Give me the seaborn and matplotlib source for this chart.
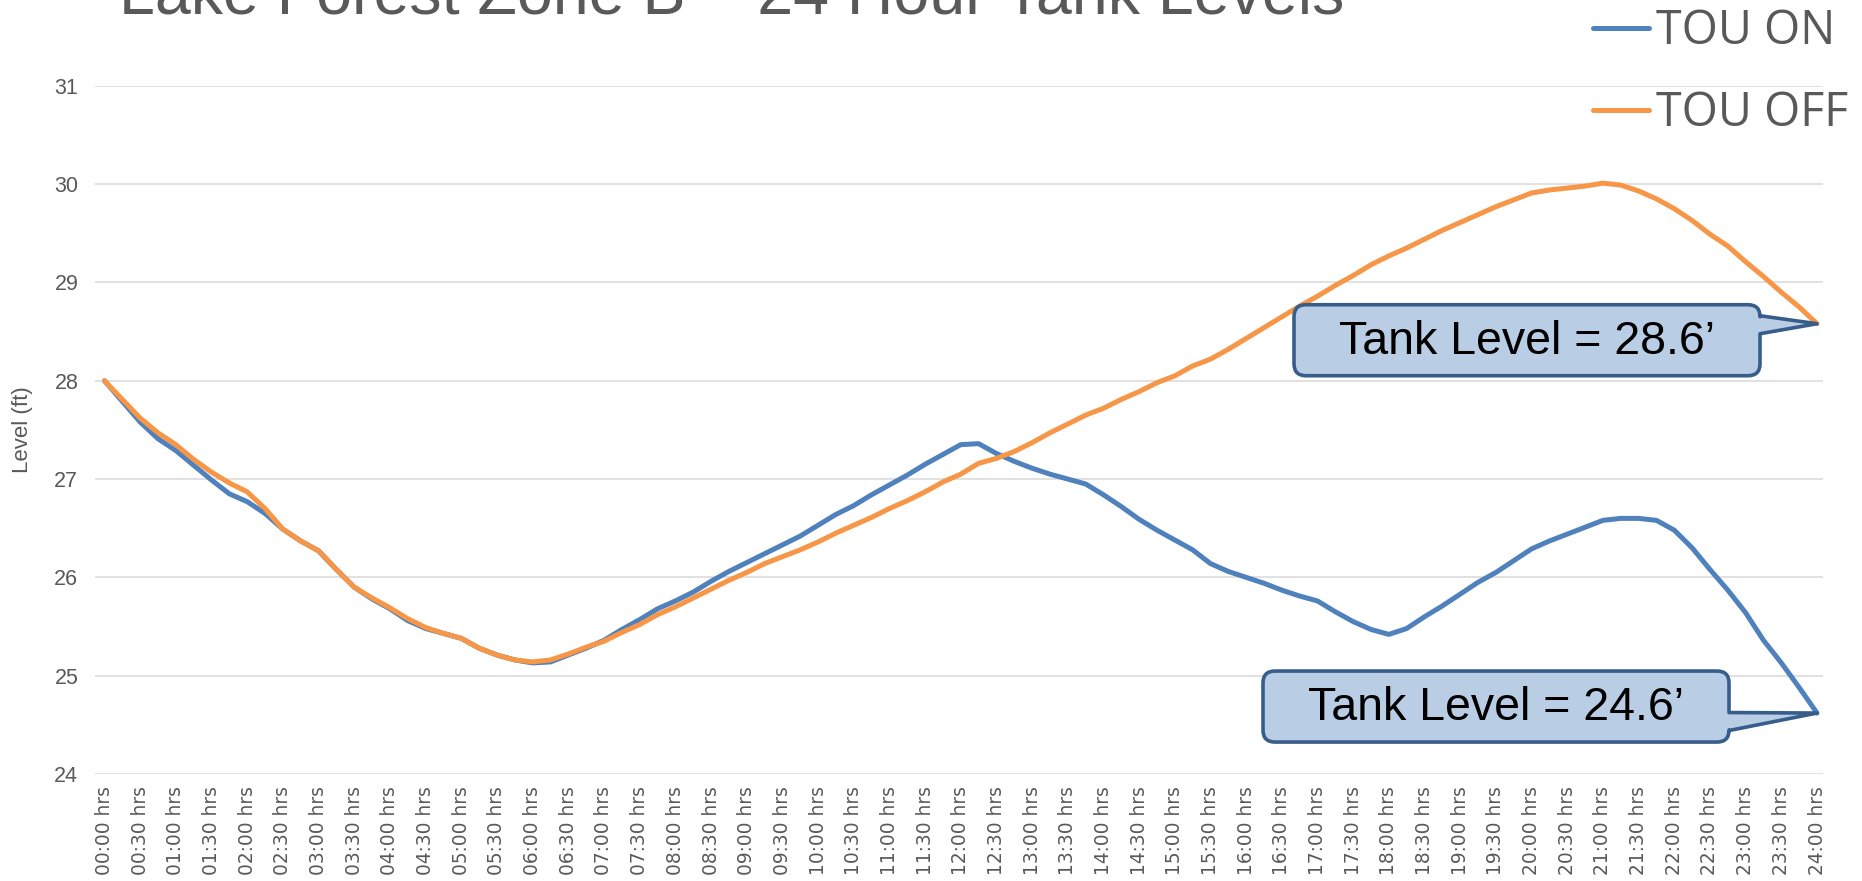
import numpy as np
import pandas as pd
import seaborn as sns
import matplotlib
matplotlib.use("Agg")
import matplotlib.pyplot as plt
from matplotlib import transforms, font_manager
from matplotlib.path import Path
from matplotlib.patches import PathPatch
from matplotlib.lines import Line2D

# ---- data (15 minute steps, 00:00 .. 24:00) ----
title = "Lake Forest Zone B – 24 Hour Tank Levels"
series_names = ["TOU ON", "TOU OFF"]
series_colors = ["#4F81BD", "#F79646"]
step_minutes = 15

tou_on = [28.00, 27.79, 27.58, 27.41, 27.29, 27.14, 26.99, 26.85, 26.77, 26.65,
          26.49, 26.37, 26.27, 26.08, 25.90, 25.78, 25.68, 25.56, 25.48, 25.43,
          25.38, 25.28, 25.21, 25.16, 25.13, 25.14, 25.21, 25.28, 25.36, 25.47,
          25.57, 25.68, 25.76, 25.85, 25.96, 26.06, 26.15, 26.24, 26.33, 26.42,
          26.53, 26.64, 26.73, 26.84, 26.94, 27.04, 27.15, 27.25, 27.35, 27.36,
          27.26, 27.18, 27.11, 27.05, 27.00, 26.95, 26.84, 26.72, 26.59, 26.48,
          26.38, 26.28, 26.14, 26.06, 26.00, 25.94, 25.87, 25.81, 25.76, 25.65,
          25.55, 25.47, 25.42, 25.48, 25.60, 25.71, 25.83, 25.95, 26.05, 26.17,
          26.29, 26.37, 26.44, 26.51, 26.58, 26.60, 26.60, 26.58, 26.48, 26.30,
          26.08, 25.87, 25.64, 25.36, 25.13, 24.88, 24.62]

tou_off = [28.00, 27.81, 27.62, 27.47, 27.35, 27.20, 27.07, 26.96, 26.87, 26.70,
           26.49, 26.37, 26.27, 26.08, 25.90, 25.79, 25.69, 25.58, 25.49, 25.43,
           25.38, 25.28, 25.21, 25.16, 25.14, 25.16, 25.22, 25.29, 25.35, 25.44,
           25.52, 25.62, 25.70, 25.79, 25.88, 25.97, 26.05, 26.14, 26.21, 26.28,
           26.36, 26.45, 26.53, 26.61, 26.70, 26.78, 26.87, 26.97, 27.05, 27.16,
           27.21, 27.28, 27.37, 27.47, 27.56, 27.65, 27.72, 27.81, 27.89, 27.98,
           28.05, 28.15, 28.22, 28.32, 28.43, 28.54, 28.65, 28.76, 28.86, 28.97,
           29.07, 29.18, 29.27, 29.35, 29.44, 29.53, 29.61, 29.69, 29.77, 29.84,
           29.91, 29.94, 29.96, 29.98, 30.01, 29.99, 29.93, 29.85, 29.75, 29.63,
           29.49, 29.37, 29.21, 29.06, 28.90, 28.75, 28.58]

y_ticks = [24, 25, 26, 27, 28, 29, 30, 31]
tick_minutes = list(range(0, 24 * 60 + 1, 30))
tick_labels = ["%02d:%02d hrs" % (m // 60, m % 60) for m in tick_minutes]
callout_labels = ["Tank Level = 28.6\u2019", "Tank Level = 24.6\u2019"]

# ---- styling ----
sns.set_theme(style="white")
installed = {f.name for f in font_manager.fontManager.ttflist}
narrow = "Liberation Sans Narrow" if "Liberation Sans Narrow" in installed else "Liberation Sans"
plt.rcParams["font.family"] = ["DejaVu Sans"]
grey = "#595959"

hours = np.arange(len(tou_on)) * step_minutes / 60.0
df = pd.DataFrame({"hours": np.concatenate([hours, hours]),
                   "level": tou_on + tou_off,
                   "series": [series_names[0]] * len(tou_on) + [series_names[1]] * len(tou_off)})

W, H = 1862, 881
fig = plt.figure(figsize=(W / 100, H / 100), dpi=100)
ax = fig.add_axes([95 / W, 1 - 774 / H, (1823 - 95) / W, (774 - 85.8) / H])

sns.lineplot(data=df, x="hours", y="level", hue="series", hue_order=series_names,
             palette=series_colors, linewidth=3.6, ax=ax, legend=False, zorder=3,
             solid_capstyle="round", solid_joinstyle="round")

ax.set_xlim(-0.133, 24.084)
ax.set_ylim(24, 31)
ax.set_yticks(y_ticks)
ax.set_yticklabels([str(v) for v in y_ticks], fontsize=15.5, color=grey, family=narrow)
ax.set_xticks([m / 60 for m in tick_minutes])
ax.set_xticklabels(tick_labels, rotation=90, fontsize=13.4, color=grey)
ax.tick_params(axis="both", length=0)
ax.tick_params(axis="y", pad=12)
ax.tick_params(axis="x", pad=9)
ax.grid(axis="y", color="#D9D9D9", linewidth=1.1)
ax.grid(axis="x", visible=False)
for s in ax.spines.values():
    s.set_visible(False)
ax.set_xlabel("")
ax.set_ylabel("Level (ft)", fontsize=16, color=grey, family="Liberation Sans")
ax.yaxis.set_label_coords(-0.036, 0.5)

# legend
handles = [Line2D([], [], color=c, linewidth=3.6, solid_capstyle="round") for c in series_colors]
fig.legend(handles, series_names, loc="upper right", bbox_to_anchor=(1848 / W, 1 - 8 / H),
           frameon=False, prop={"family": "Open Sans", "size": 33.5}, labelcolor=grey,
           handlelength=1.2, handletextpad=0.15, labelspacing=0.74, borderpad=0,
           borderaxespad=0)

# title, partly above the top edge as in the original
t = fig.text(119 / W, 1 - 13 / H, title, ha="left", va="baseline", color=grey,
             fontsize=40, family=narrow)
fig.canvas.draw()
bb = t.get_window_extent()
t.set_fontsize(40 * 1223 / bb.width)


# callouts anchored on the last point of each series
def callout(xd, yd, label, left, right, top, bottom, w_top, w_bot, r=12):
    px = 1 / 100.0
    L, R, T, B = left * px, right * px, top * px, bottom * px
    r = r * px
    verts = [(L + r, T), (R - r, T), (R, T), (R, T - r), (R, w_top * px), (0, 0),
             (R, w_bot * px), (R, B + r), (R, B), (R - r, B), (L + r, B), (L, B),
             (L, B + r), (L, T - r), (L, T), (L + r, T), (L + r, T)]
    codes = [Path.MOVETO, Path.LINETO, Path.CURVE3, Path.CURVE3, Path.LINETO, Path.LINETO,
             Path.LINETO, Path.LINETO, Path.CURVE3, Path.CURVE3, Path.LINETO, Path.CURVE3,
             Path.CURVE3, Path.LINETO, Path.CURVE3, Path.CURVE3, Path.CLOSEPOLY]
    trans = fig.dpi_scale_trans + transforms.ScaledTranslation(xd, yd, ax.transData)
    patch = PathPatch(Path(verts, codes), transform=trans, facecolor="#B9CDE5",
                      edgecolor="#385D8A", linewidth=2.6, joinstyle="round",
                      zorder=5, clip_on=False)
    ax.add_patch(patch)
    ax.annotate(label, xy=(xd, yd), xytext=((left + right) / 2 * 0.72, (top + bottom) / 2 * 0.72 - 1),
                textcoords="offset points", ha="center", va="center", fontsize=33.5,
                family=narrow, color="black", zorder=6)


callout(hours[-1], tou_off[-1], callout_labels[0], -523, -57, 19, -52, 8, -10)
callout(hours[-1], tou_on[-1], callout_labels[1], -554, -88, 42, -29, 0.5, -17.5)

ax.set_xlim(-0.133, 24.084)
ax.set_ylim(24, 31)

fig.savefig("out.png", dpi=100)
